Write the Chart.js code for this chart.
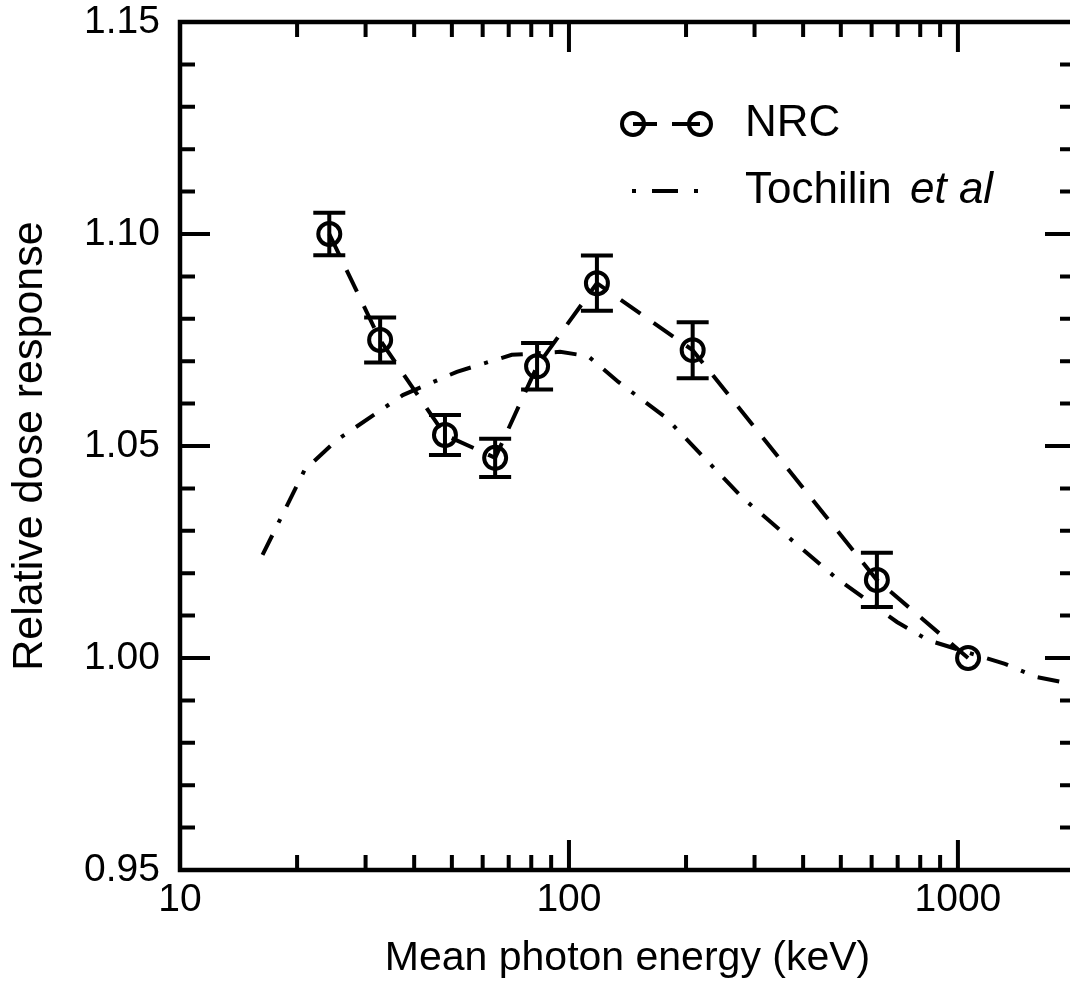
<!DOCTYPE html>
<html>
<head>
<meta charset="utf-8">
<script src="https://cdn.jsdelivr.net/npm/chart.js@4.4.0/dist/chart.umd.min.js"></script>
<style>
  html, body { margin: 0; padding: 0; background: #fff; overflow: hidden; }
  #doseChart { position: absolute; left: 0; top: 0; width: 1090px; height: 994px; }
</style>
</head>
<body>
<canvas id="doseChart" width="1090" height="994"></canvas>
<script>
const nrcEnergy   = [24.2, 32.7, 48.0, 64.6, 82.8, 118, 208, 619, 1062];
const nrcResponse = [1.100, 1.075, 1.0526, 1.0472, 1.0688, 1.0884, 1.0726, 1.0184, 1.000];
const nrcError    = [0.0050, 0.0053, 0.0047, 0.0045, 0.0055, 0.0065, 0.0066, 0.0064, 0];

// Tochilin et al curve
const tochilinEnergy   = [16.3, 20.9, 25.3, 37.4, 51.5, 71.3, 94.9, 112, 134, 177, 280, 483, 697, 838, 1321, 1596, 2000];
const tochilinResponse = [1.0243, 1.0443, 1.0514, 1.0620, 1.0675, 1.0715, 1.0722, 1.0712, 1.0651, 1.0568, 1.0377, 1.0191, 1.0085, 1.0042, 0.9986, 0.9955, 0.9937];

// axes
const xMin = 10, xMax = 2000;
const xLabelTicks = [10, 100, 1000];
const yMin = 0.95, yMax = 1.15;
const yLabelTicks = [0.95, 1.00, 1.05, 1.10, 1.15];

const FONT = '"Liberation Sans", Arial, Helvetica, sans-serif';

// x minor ticks 10..90, 100..900, 1000, 2000
const xAllTicks = [];
for (let d = 10; d <= 1000; d *= 10) {
  for (let m = 1; m <= 9; m++) {
    const v = m * d;
    if (v >= xMin && v <= xMax) xAllTicks.push(v);
  }
}
const yMinorTicks = [];
for (let k = 0; k <= 20; k++) yMinorTicks.push(+(yMin + k * 0.01).toFixed(2));

const framePlugin = {
  id: 'frame',
  afterDatasetsDraw(chart) {
    const ctx = chart.ctx;
    const { left, right, top, bottom } = chart.chartArea;
    const xs = chart.scales.x, ys = chart.scales.y;
    ctx.save();
    ctx.strokeStyle = '#000';

    // error bars
    ctx.lineWidth = 4;
    nrcEnergy.forEach((e, i) => {
      if (!nrcError[i]) return;
      const px = xs.getPixelForValue(e);
      const y1 = ys.getPixelForValue(nrcResponse[i] + nrcError[i]);
      const y2 = ys.getPixelForValue(nrcResponse[i] - nrcError[i]);
      ctx.beginPath();
      ctx.moveTo(px, y1); ctx.lineTo(px, y2);
      ctx.moveTo(px - 16, y1); ctx.lineTo(px + 16, y1);
      ctx.moveTo(px - 16, y2); ctx.lineTo(px + 16, y2);
      ctx.stroke();
    });

    // frame
    ctx.lineWidth = 4.5;
    ctx.strokeRect(left, top, right - left, bottom - top);

    // inward ticks
    ctx.lineWidth = 4;
    ctx.beginPath();
    xAllTicks.forEach(v => {
      const px = xs.getPixelForValue(v);
      const len = xLabelTicks.includes(v) ? 30 : 15;
      ctx.moveTo(px, bottom); ctx.lineTo(px, bottom - len);
      ctx.moveTo(px, top); ctx.lineTo(px, top + len);
    });
    yMinorTicks.forEach((v, k) => {
      const py = ys.getPixelForValue(v);
      const len = (k % 5 === 0) ? 30 : 15;
      ctx.moveTo(left, py); ctx.lineTo(left + len, py);
      ctx.moveTo(right, py); ctx.lineTo(right - len, py);
    });
    ctx.stroke();

    // legend
    const lx = left + 453, row1 = top + 102, row2 = top + 169;
    ctx.lineWidth = 4;
    ctx.beginPath();
    ctx.arc(lx, row1, 11, 0, Math.PI * 2);
    ctx.moveTo(lx + 67 + 11, row1);
    ctx.arc(lx + 67, row1, 11, 0, Math.PI * 2);
    ctx.moveTo(lx, row1); ctx.lineTo(lx + 24, row1);
    ctx.moveTo(lx + 39, row1); ctx.lineTo(lx + 67, row1);
    ctx.stroke();

    ctx.beginPath();
    ctx.moveTo(lx - 1, row2); ctx.lineTo(lx + 3, row2);
    ctx.moveTo(lx + 19, row2); ctx.lineTo(lx + 45, row2);
    ctx.moveTo(lx + 61, row2); ctx.lineTo(lx + 65, row2);
    ctx.stroke();

    ctx.fillStyle = '#000';
    ctx.textBaseline = 'middle';
    ctx.textAlign = 'left';
    ctx.font = '44px ' + FONT;
    ctx.fillText('NRC', lx + 112, row1);
    const t1 = 'Tochilin ';
    ctx.fillText(t1, lx + 112, row2);
    const w = ctx.measureText(t1).width;
    ctx.font = 'italic 44px ' + FONT;
    ctx.fillText('et al', lx + 112 + w + 6, row2);
    ctx.restore();
  }
};

new Chart(document.getElementById('doseChart'), {
  type: 'line',
  data: {
    datasets: [
      {
        label: 'NRC',
        data: nrcEnergy.map((e, i) => ({ x: e, y: nrcResponse[i] })),
        borderColor: '#000',
        borderWidth: 4,
        borderDash: [24, 16],
        tension: 0,
        pointRadius: 11,
        pointBorderWidth: 4,
        pointBorderColor: '#000',
        pointBackgroundColor: 'rgba(0,0,0,0)',
        fill: false
      },
      {
        label: 'Tochilin et al',
        data: tochilinEnergy.map((e, i) => ({ x: e, y: tochilinResponse[i] })),
        borderColor: '#000',
        borderWidth: 4,
        borderDash: [22, 14, 4, 14],
        tension: 0,
        pointRadius: 0,
        fill: false
      }
    ]
  },
  options: {
    responsive: false,
    maintainAspectRatio: false,
    devicePixelRatio: 1,
    animation: false,
    events: [],
    layout: { padding: { top: 22, right: 0, left: 0, bottom: 0 } },
    plugins: {
      legend: { display: false },
      tooltip: { enabled: false }
    },
    scales: {
      x: {
        type: 'logarithmic',
        min: xMin,
        max: xMax,
        afterBuildTicks: s => { s.ticks = xAllTicks.map(v => ({ value: v })); },
        afterFit: s => {
          s.height = 124;
          s.paddingLeft = 0; s.paddingRight = 0;
        },
        grid: {
          display: true,
          drawOnChartArea: false,
          drawTicks: true,
          tickLength: 11,
          color: 'rgba(0,0,0,0)',
          tickColor: 'rgba(0,0,0,0)'
        },
        border: { display: false },
        ticks: {
          autoSkip: false,
          maxRotation: 0,
          minRotation: 0,
          padding: 0,
          color: '#000',
          font: { family: FONT, size: 39, lineHeight: 1 },
          callback: v => xLabelTicks.includes(v) ? String(v) : ''
        },
        title: {
          display: true,
          text: 'Mean photon energy (keV)',
          color: '#000',
          font: { family: FONT, size: 41 },
          padding: { top: 0, bottom: 11 }
        }
      },
      y: {
        type: 'linear',
        min: yMin,
        max: yMax,
        afterBuildTicks: s => { s.ticks = yLabelTicks.map(v => ({ value: v })); },
        afterFit: s => {
          s.width = 180;
          s.paddingTop = 0; s.paddingBottom = 0;
        },
        grid: { display: false, drawTicks: false },
        border: { display: false },
        ticks: {
          padding: 20,
          color: '#000',
          font: { family: FONT, size: 39, lineHeight: 1 },
          callback: v => v.toFixed(2)
        },
        title: {
          display: true,
          text: 'Relative dose response',
          color: '#000',
          font: { family: FONT, size: 43 },
          padding: { top: 4, bottom: 0 }
        }
      }
    }
  },
  plugins: [framePlugin]
});
</script>
</body>
</html>
